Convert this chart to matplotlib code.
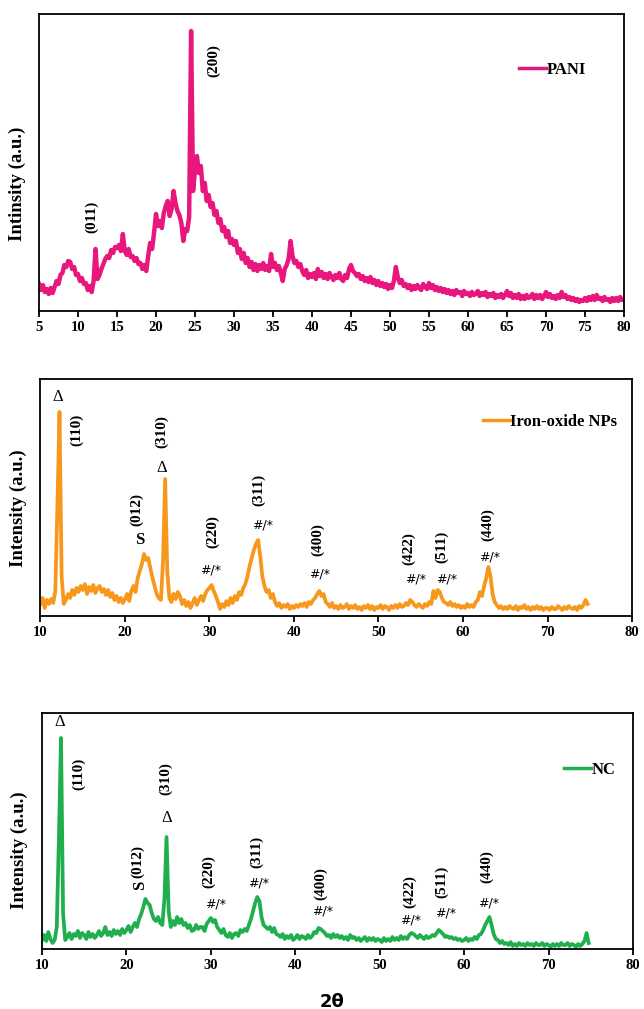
import numpy as np
import matplotlib
matplotlib.use("Agg")
import matplotlib.pyplot as plt

# ---------------- data ----------------
pani_start, pani_step = 5.0, 0.25
pani_y = [
    27, 21, 26, 19,   22, 17, 23, 18,   24, 30, 27, 36,   38, 46, 44, 50,   # 5-8
    49, 42, 44, 36,   37, 30, 33, 27,   28, 21, 25, 19,   30, 62, 32, 36,   # 9-12
    42, 47, 52, 55,   53, 61, 58, 64,   63, 66, 60, 77,   60, 56, 62, 54,   # 13-16
    55, 50, 53, 47,   48, 42, 46, 40,   55, 68, 62, 78,   97, 85, 90, 83,   # 17-20
    98, 105, 110, 95, 102, 120, 108, 100, 96, 88, 70, 82, 80, 94, 280, 120, # 21-24
    140, 155, 138, 145, 120, 128, 110, 116, 104, 108, 96, 100, 88, 92, 80, 84,  # 25-28
    74, 80, 68, 72,   66, 70, 58, 62,   52, 58, 48, 53,   44, 49, 41, 47,   # 29-32
    40, 46, 42, 48,   41, 45, 40, 57,   44, 48, 41, 45,   38, 30, 42, 46,   # 33-36
    52, 70, 55, 48,   50, 44, 47, 40,   36, 41, 33, 37,   34, 38, 32, 42,   # 37-40
    35, 39, 33, 37,   32, 38, 34, 31,   36, 33, 38, 32,   30, 36, 33, 42,   # 41-44
    46, 40, 38, 35,   37, 32, 35, 30,   33, 29, 34, 28,   31, 26, 30, 25,   # 45-48
    28, 24, 27, 22,   26, 23, 30, 44,   34, 28, 31, 25,   27, 23, 26, 21,   # 49-52
    25, 22, 26, 23,   21, 27, 24, 22,   28, 23, 26, 21,   24, 20, 23, 19,   # 53-56
    22, 18, 21, 17,   20, 16, 21, 18,   19, 15, 20, 17,   18, 15, 19, 16,   # 57-60
    17, 20, 15, 18,   16, 19, 14, 17,   15, 18, 13, 16,   14, 17, 13, 16,   # 61-64
    20, 15, 18, 13,   16, 13, 17, 12,   15, 12, 16, 13,   14, 17, 12, 16,   # 65-68
    13, 16, 12, 15,   19, 14, 17, 13,   15, 12, 16, 13,   19, 14, 16, 12,   # 69-72
    14, 11, 13, 10,   12, 9, 11, 10,    13, 10, 14, 11,   15, 11, 16, 12,   # 73-76
    13, 10, 14, 11,   12, 9, 13, 10,    13, 10, 14, 11,   12,               # 77-80
]

iron_start, iron_step = 10.0, 0.25
iron_y = [
    12, 18, 8, 16,    12, 17, 13, 25,   110, 204, 40, 12,  16, 22, 18, 26,   # 10-13
    21, 28, 24, 30,   26, 32, 22, 29,   25, 31, 23, 28,   30, 24, 27, 21,   # 14-17
    26, 19, 23, 16,   20, 14, 18, 13,   17, 22, 15, 25,   30, 24, 38, 45,   # 18-21
    52, 62, 56, 58,   48, 38, 30, 22,   18, 16, 55, 137,  45, 18, 14, 22,   # 22-25
    17, 24, 20, 12,   16, 10, 14, 8,    13, 18, 11, 16,   20, 15, 22, 26,   # 26-29
    28, 31, 25, 20,   14, 7, 12, 9,     15, 11, 18, 13,   20, 16, 24, 21,   # 30-33
    28, 32, 40, 50,   58, 66, 72, 76,   60, 40, 30, 24,   26, 18, 22, 14,   # 34-37
    10, 13, 8, 11,    9, 12, 7, 10,     8, 11, 9, 12,     10, 13, 9, 14,    # 38-41
    12, 16, 18, 22,   25, 20, 22, 14,   12, 9, 13, 8,     10, 7, 11, 8,     # 42-45
    9, 12, 7, 10,     8, 11, 7, 9,      6, 10, 8, 11,     7, 10, 6, 9,      # 46-49
    8, 11, 7, 10,     9, 6, 10, 8,      11, 8, 12, 9,     10, 13, 11, 16,   # 50-53
    14, 11, 9, 12,    10, 8, 12, 10,    14, 12, 25, 18,   26, 24, 18, 14,   # 54-57
    13, 11, 14, 10,   12, 9, 11, 8,     10, 8, 12, 9,     11, 9, 14, 16,    # 58-61
    24, 20, 30, 38,   49, 40, 22, 14,   11, 8, 10, 7,     9, 7, 10, 8,      # 62-65
    7, 10, 6, 9,      8, 11, 7, 9,      6, 9, 7, 10,      7, 9, 6, 8,       # 66-69
    8, 6, 9, 7,       7, 10, 8, 6,      9, 7, 10, 8,      7, 9, 6, 10,      # 70-73
    8, 11, 16, 12,                                                           # 74
]

nc_start, nc_step = 10.0, 0.25
nc_y = [
    9, 14, 8, 17,     10, 6, 9, 22,     110, 211, 35, 9,   12, 16, 10, 15,   # 10-13
    13, 18, 11, 16,   14, 10, 17, 12,   15, 11, 14, 18,   13, 16, 22, 14,   # 14-17
    17, 13, 19, 15,   18, 14, 20, 16,   19, 23, 17, 22,   26, 22, 30, 35,   # 18-21
    42, 50, 46, 44,   36, 30, 28, 32,   26, 24, 50, 112,  38, 22, 28, 24,   # 22-25
    32, 26, 30, 24,   26, 21, 24, 18,   19, 24, 20, 22,   22, 18, 25, 28,   # 26-29
    31, 27, 29, 22,   19, 16, 20, 14,   12, 16, 11, 15,   16, 13, 19, 17,   # 30-33
    20, 18, 24, 30,   38, 46, 52, 48,   32, 24, 22, 20,   22, 17, 21, 15,   # 34-37
    14, 12, 15, 10,   13, 11, 14, 9,    11, 14, 10, 13,   12, 10, 14, 11,   # 38-41
    13, 17, 16, 21,   20, 18, 16, 13,   14, 11, 15, 12,   14, 11, 13, 10,   # 42-45
    12, 9, 14, 11,    12, 9, 11, 8,     10, 12, 8, 11,    9, 11, 8, 10,     # 46-49
    9, 7, 11, 8,      10, 8, 12, 9,     11, 9, 13, 10,    12, 10, 14, 16,   # 50-53
    15, 13, 11, 14,   12, 10, 13, 11,   12, 14, 13, 16,   19, 17, 15, 12,   # 54-57
    13, 11, 12, 10,   11, 9, 10, 8,     9, 11, 8, 10,     9, 12, 10, 14,    # 58-61
    15, 19, 24, 28,   32, 24, 15, 10,   9, 6, 8, 5,       6, 4, 7, 3,       # 62-65
    5, 3, 6, 4,       5, 3, 6, 4,       5, 3, 6, 4,       4, 6, 3, 5,       # 66-69
    4, 2, 5, 3,       5, 3, 6, 4,       4, 6, 3, 5,       4, 2, 5, 3,       # 70-73
    5, 8, 16, 6,                                                             # 74
]

pani_ticks = [5, 10, 15, 20, 25, 30, 35, 40, 45, 50, 55, 60, 65, 70, 75, 80]
nps_ticks = [10, 20, 30, 40, 50, 60, 70, 80]

# annotation labels (text, x in 2theta, y in intensity units)
pani_labels = [("(011)", 11.7, 94), ("(200)", 27.35, 250)]
iron_hkl = [("(110)", 14.25, 186), ("(310)", 24.3, 184), ("(012)", 21.35, 107),
            ("(220)", 30.4, 84), ("(311)", 35.8, 126), ("(400)", 42.85, 76),
            ("(422)", 53.6, 67), ("(511)", 57.5, 69), ("(440)", 62.9, 91)]
iron_sym = [("Δ", 12.06, 219), ("Δ", 24.3, 148), ("S", 21.7, 76),
            ("#/*", 30.15, 46), ("#/*", 36.26, 91), ("#/*", 43.0, 42),
            ("#/*", 54.35, 37), ("#/*", 58.0, 37), ("#/*", 63.15, 59)]
nc_hkl = [("(110)", 14.3, 175), ("(310)", 24.6, 170), ("(012)", 21.3, 87),
          ("(220)", 29.75, 77), ("(311)", 35.4, 97), ("(400)", 42.96, 65),
          ("(422)", 53.5, 57), ("(511)", 57.3, 67), ("(440)", 62.7, 82)]
nc_sym = [("Δ", 12.12, 227), ("Δ", 24.75, 131),
          ("#/*", 30.5, 45), ("#/*", 35.6, 66), ("#/*", 43.2, 38),
          ("#/*", 53.7, 29), ("#/*", 57.8, 36), ("#/*", 62.9, 46)]
nc_s = ("S", 21.67, 64)

# ---------------- plotting ----------------
W, H = 644, 1009
fig = plt.figure(figsize=(W / 100, H / 100), dpi=100)
serif = "Liberation Serif"

def px_axes(l, r, t, b):
    return fig.add_axes([l / W, 1 - b / H, (r - l) / W, (b - t) / H])

def style(ax, xlim, ylim, ticks):
    ax.set_xlim(*xlim)
    ax.set_ylim(*ylim)
    ax.set_xticks(ticks)
    ax.set_xticklabels([str(t) for t in ticks], fontfamily=serif,
                       fontweight="bold", fontsize=10.5)
    ax.set_yticks([])
    ax.tick_params(axis="x", direction="out", length=4, width=1.3, pad=3)
    for s in ax.spines.values():
        s.set_linewidth(1.3)
        s.set_color("black")

ax1 = px_axes(39, 624, 14, 311)
ax2 = px_axes(40.5, 632, 379, 616)
ax3 = px_axes(42, 633, 712.5, 949)

pink = "#E8177D"
orange = "#F7981D"
green = "#1FAF4E"

x1 = pani_start + pani_step * np.arange(len(pani_y))
x2 = iron_start + iron_step * np.arange(len(iron_y))
x3 = nc_start + nc_step * np.arange(len(nc_y))

ax1.plot(x1, pani_y, color=pink, lw=3.2, label="PANI", solid_joinstyle="round")
ax2.plot(x2, iron_y, color=orange, lw=2.7, label="Iron-oxide NPs", solid_joinstyle="round")
ax3.plot(x3, nc_y, color=green, lw=2.7, label="NC", solid_joinstyle="round")

style(ax1, (5, 80), (0, 297), pani_ticks)
style(ax2, (10, 80), (0, 237), nps_ticks)
style(ax3, (10, 80), (0, 236.5), nps_ticks)

def leg(ax, xa, ya):
    lg = ax.legend(loc="center left", bbox_to_anchor=(xa, ya), frameon=False,
                   borderpad=0, borderaxespad=0, handletextpad=0.05,
                   handlelength=1.6,
                   prop={"family": serif, "weight": "bold", "size": 12})
    for h in lg.get_lines():
        h.set_linewidth(2.5)

leg(ax1, 0.8205, 0.811)
leg(ax2, 0.748, 0.820)
leg(ax3, 0.883, 0.757)

hkl_kw = dict(rotation=90, ha="center", va="center", fontfamily=serif,
              fontweight="bold", fontsize=11)
for t, x, y in pani_labels:
    ax1.text(x, y, t, **hkl_kw)
for t, x, y in iron_hkl:
    ax2.text(x, y, t, **hkl_kw)
for t, x, y in nc_hkl:
    ax3.text(x, y, t, **hkl_kw)

def sym(ax, t, x, y, rot=0):
    if t == "#/*":
        ax.text(x, y, t, ha="center", va="center", fontfamily="DejaVu Sans",
                fontsize=9)
    else:
        ax.text(x, y, t, ha="center", va="center", fontfamily=serif,
                fontsize=12, fontweight="bold" if t == "S" else "normal",
                rotation=rot)

for t, x, y in iron_sym:
    sym(ax2, t, x, y)
for t, x, y in nc_sym:
    sym(ax3, t, x, y)
sym(ax3, nc_s[0], nc_s[1], nc_s[2], rot=90)

ylab_kw = dict(rotation=90, ha="center", va="center", fontfamily=serif,
               fontweight="bold", fontsize=13.5)
fig.text(17 / W, 1 - 184 / H, "Intinsity (a.u.)", **ylab_kw)
fig.text(18.6 / W, 1 - 508 / H, "Intensity (a.u.)", **ylab_kw)
fig.text(19 / W, 1 - 850 / H, "Intensity (a.u.)", **ylab_kw)

fig.text(331.7 / W, 1 - 1001.7 / H, "2θ", ha="center", va="center",
         fontfamily="DejaVu Sans", fontweight="bold", fontsize=13)

fig.savefig("out.png", dpi=100)
